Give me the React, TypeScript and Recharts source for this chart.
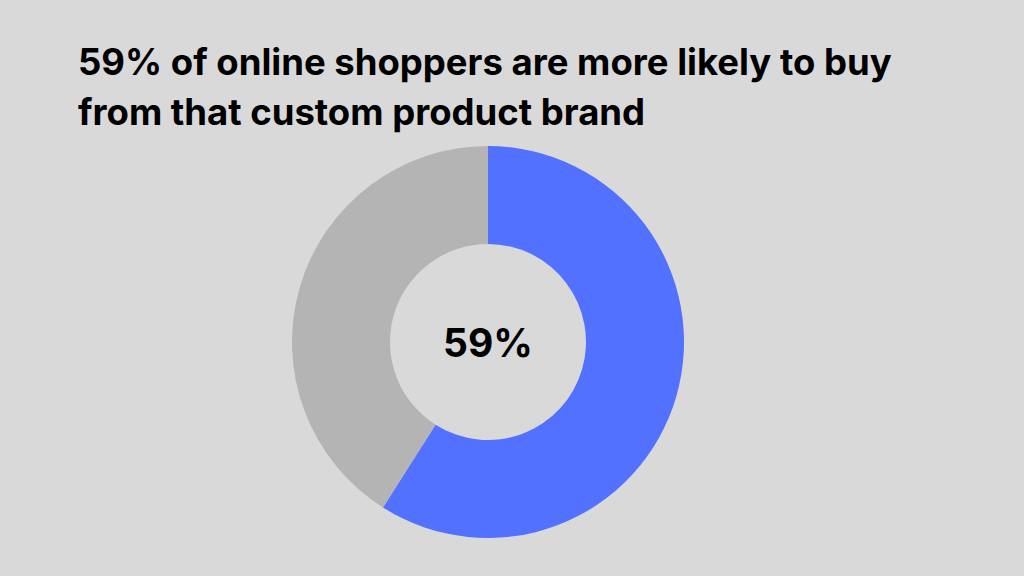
import { PieChart, Pie, Cell } from 'recharts';

const segmentNames = ['More likely to buy', 'Other'];
const segmentValues = [59, 41];
const segmentColors = ['#5271ff', '#b4b4b4'];

const titleLines = [
  '59% of online shoppers are more likely to buy',
  'from that custom product brand'
];
const centerLabel = '59%';

const data = segmentNames.map((name, i) => ({ name, value: segmentValues[i] }));

const font = 'Inter, "Open Sans", sans-serif';

export default function App() {
  return (
    <div
      style={{
        position: 'absolute',
        top: 0,
        left: 0,
        width: 1024,
        height: 576,
        background: '#d9d9d9',
        fontFamily: font,
        overflow: 'hidden'
      }}
    >
      <div
        style={{
          position: 'absolute',
          left: 78,
          top: 37,
          fontSize: 36.5,
          fontWeight: 700,
          lineHeight: '50px',
          color: '#000'
        }}
      >
        {titleLines.map((line) => (
          <div key={line} style={{ whiteSpace: 'nowrap' }}>{line}</div>
        ))}
      </div>
      <PieChart
        width={1024}
        height={576}
        margin={{ top: 0, right: 0, bottom: 0, left: 0 }}
        style={{ position: 'absolute', top: 0, left: 0 }}
      >
        <Pie
          data={data}
          dataKey="value"
          nameKey="name"
          cx={488}
          cy={342}
          innerRadius={98}
          outerRadius={196}
          startAngle={90}
          endAngle={-270}
          stroke="none"
          isAnimationActive={false}
        >
          {data.map((entry, index) => (
            <Cell key={`cell-${index}`} fill={segmentColors[index]} />
          ))}
        </Pie>
        <text
          x={488}
          y={357}
          textAnchor="middle"
          fontSize={39}
          fontWeight={700}
          fill="#000"
          fontFamily={font}
        >
          {centerLabel}
        </text>
      </PieChart>
    </div>
  );
}
